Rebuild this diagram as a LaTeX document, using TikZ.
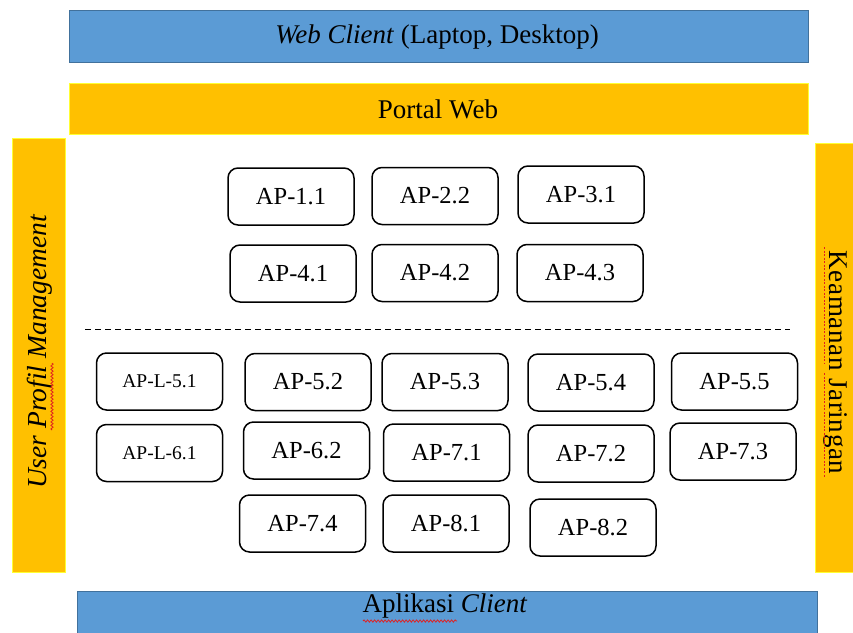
\documentclass[tikz,border=0pt]{standalone}
\usepackage{fontspec}
\setmainfont{Liberation Serif}
\usetikzlibrary{decorations.pathmorphing}
\definecolor{barblue}{HTML}{5B9BD5}
\definecolor{barblueedge}{HTML}{41719C}
\definecolor{bargold}{HTML}{FFC000}
\definecolor{baredge}{HTML}{FFFF33}
\definecolor{spellred}{HTML}{E02020}
\tikzset{
  bluebar/.style={draw=barblueedge, line width=1pt, fill=barblue},
  goldbar/.style={draw=baredge, line width=1pt, fill=bargold},
  bartext/.style={font=\fontsize{27}{32}\selectfont, inner sep=0pt},
  apbox/.style={draw=black, line width=1.5pt, rounded corners=10pt, fill=white,
    minimum width=126pt, minimum height=57pt, inner sep=0pt,
    font=\fontsize{24.5}{28}\selectfont},
  apsmall/.style={apbox, font=\fontsize{19.5}{24}\selectfont},
  spell/.style={draw=spellred, line width=0.8pt,
    decorate, decoration={snake, segment length=3.5pt, amplitude=1.1pt}},
  spelldot/.style={draw=spellred, line width=1pt, dash pattern=on 2pt off 1.5pt}
}
\begin{document}
\begin{tikzpicture}[x=1pt, y=-1pt]
\useasboundingbox (0,0) rectangle (853,632);

% outer layers
\node[bluebar, minimum width=739pt, minimum height=52pt, inner sep=0pt] (web) at (438.5,36) {};
\node[bartext] (webtxt) at (437,37) {\textit{Web Client} (Laptop, Desktop)};
\node[goldbar, minimum width=739pt, minimum height=51pt, inner sep=0pt] (portal) at (438.5,108.5) {};
\node[bartext] (portaltxt) at (438,109) {Portal Web};
\node[goldbar, minimum width=53pt, minimum height=434pt, inner sep=0pt] (upm) at (38.5,355) {};
\node[bartext, rotate=90, font=\fontsize{27.5}{32}\selectfont\itshape] (upmtxt) at (40,352) {User Profil Management};
\node[goldbar, minimum width=40pt, minimum height=429pt, inner sep=0pt] (sec) at (835,357.5) {};
\node[bartext, rotate=-90] (sectxt) at (836,362.5) {\addfontfeatures{LetterSpace=2.5}Keamanan Jaringan};
\node[bluebar, minimum width=740pt, minimum height=50pt, inner sep=0pt] (app) at (447,616) {};
\node[bartext] (apptxt) at (445,606) {Aplikasi \textit{Client}};

% spelling marks
\draw[spell] (52,430) -- (52,363);
\draw[spelldot] (824,247) -- (824,363);
\draw[spelldot] (824,373) -- (824,478);
\draw[spell] (363,621) -- (457,621);

% upper group
\node[apbox] (a11) at (291,196.5) {AP-1.1};
\node[apbox] (a22) at (435,196) {AP-2.2};
\node[apbox] (a31) at (581,194.5) {AP-3.1};
\node[apbox] (a41) at (293,273.5) {AP-4.1};
\node[apbox] (a42) at (435,273) {AP-4.2};
\node[apbox] (a43) at (580,273) {AP-4.3};

% separator
\coordinate (sepL) at (85,329);
\coordinate (sepR) at (790,329);
\draw[line width=1pt, dash pattern=on 6pt off 4pt] (sepL) -- (sepR);

% lower group
\node[apsmall] (l51) at (159.5,381.5) {AP-L-5.1};
\node[apbox] (a52) at (308,382) {AP-5.2};
\node[apbox] (a53) at (445,382) {AP-5.3};
\node[apbox] (a54) at (591,382.5) {AP-5.4};
\node[apbox] (a55) at (734.5,381.5) {AP-5.5};
\node[apsmall] (l61) at (159.5,453) {AP-L-6.1};
\node[apbox] (a62) at (306.5,450.5) {AP-6.2};
\node[apbox] (a71) at (446.5,452.5) {AP-7.1};
\node[apbox] (a72) at (591,453.5) {AP-7.2};
\node[apbox] (a73) at (733,451.5) {AP-7.3};
\node[apbox] (a74) at (302.5,523.5) {AP-7.4};
\node[apbox] (a81) at (446,523.5) {AP-8.1};
\node[apbox] (a82) at (593,527.5) {AP-8.2};
\end{tikzpicture}
\end{document}
